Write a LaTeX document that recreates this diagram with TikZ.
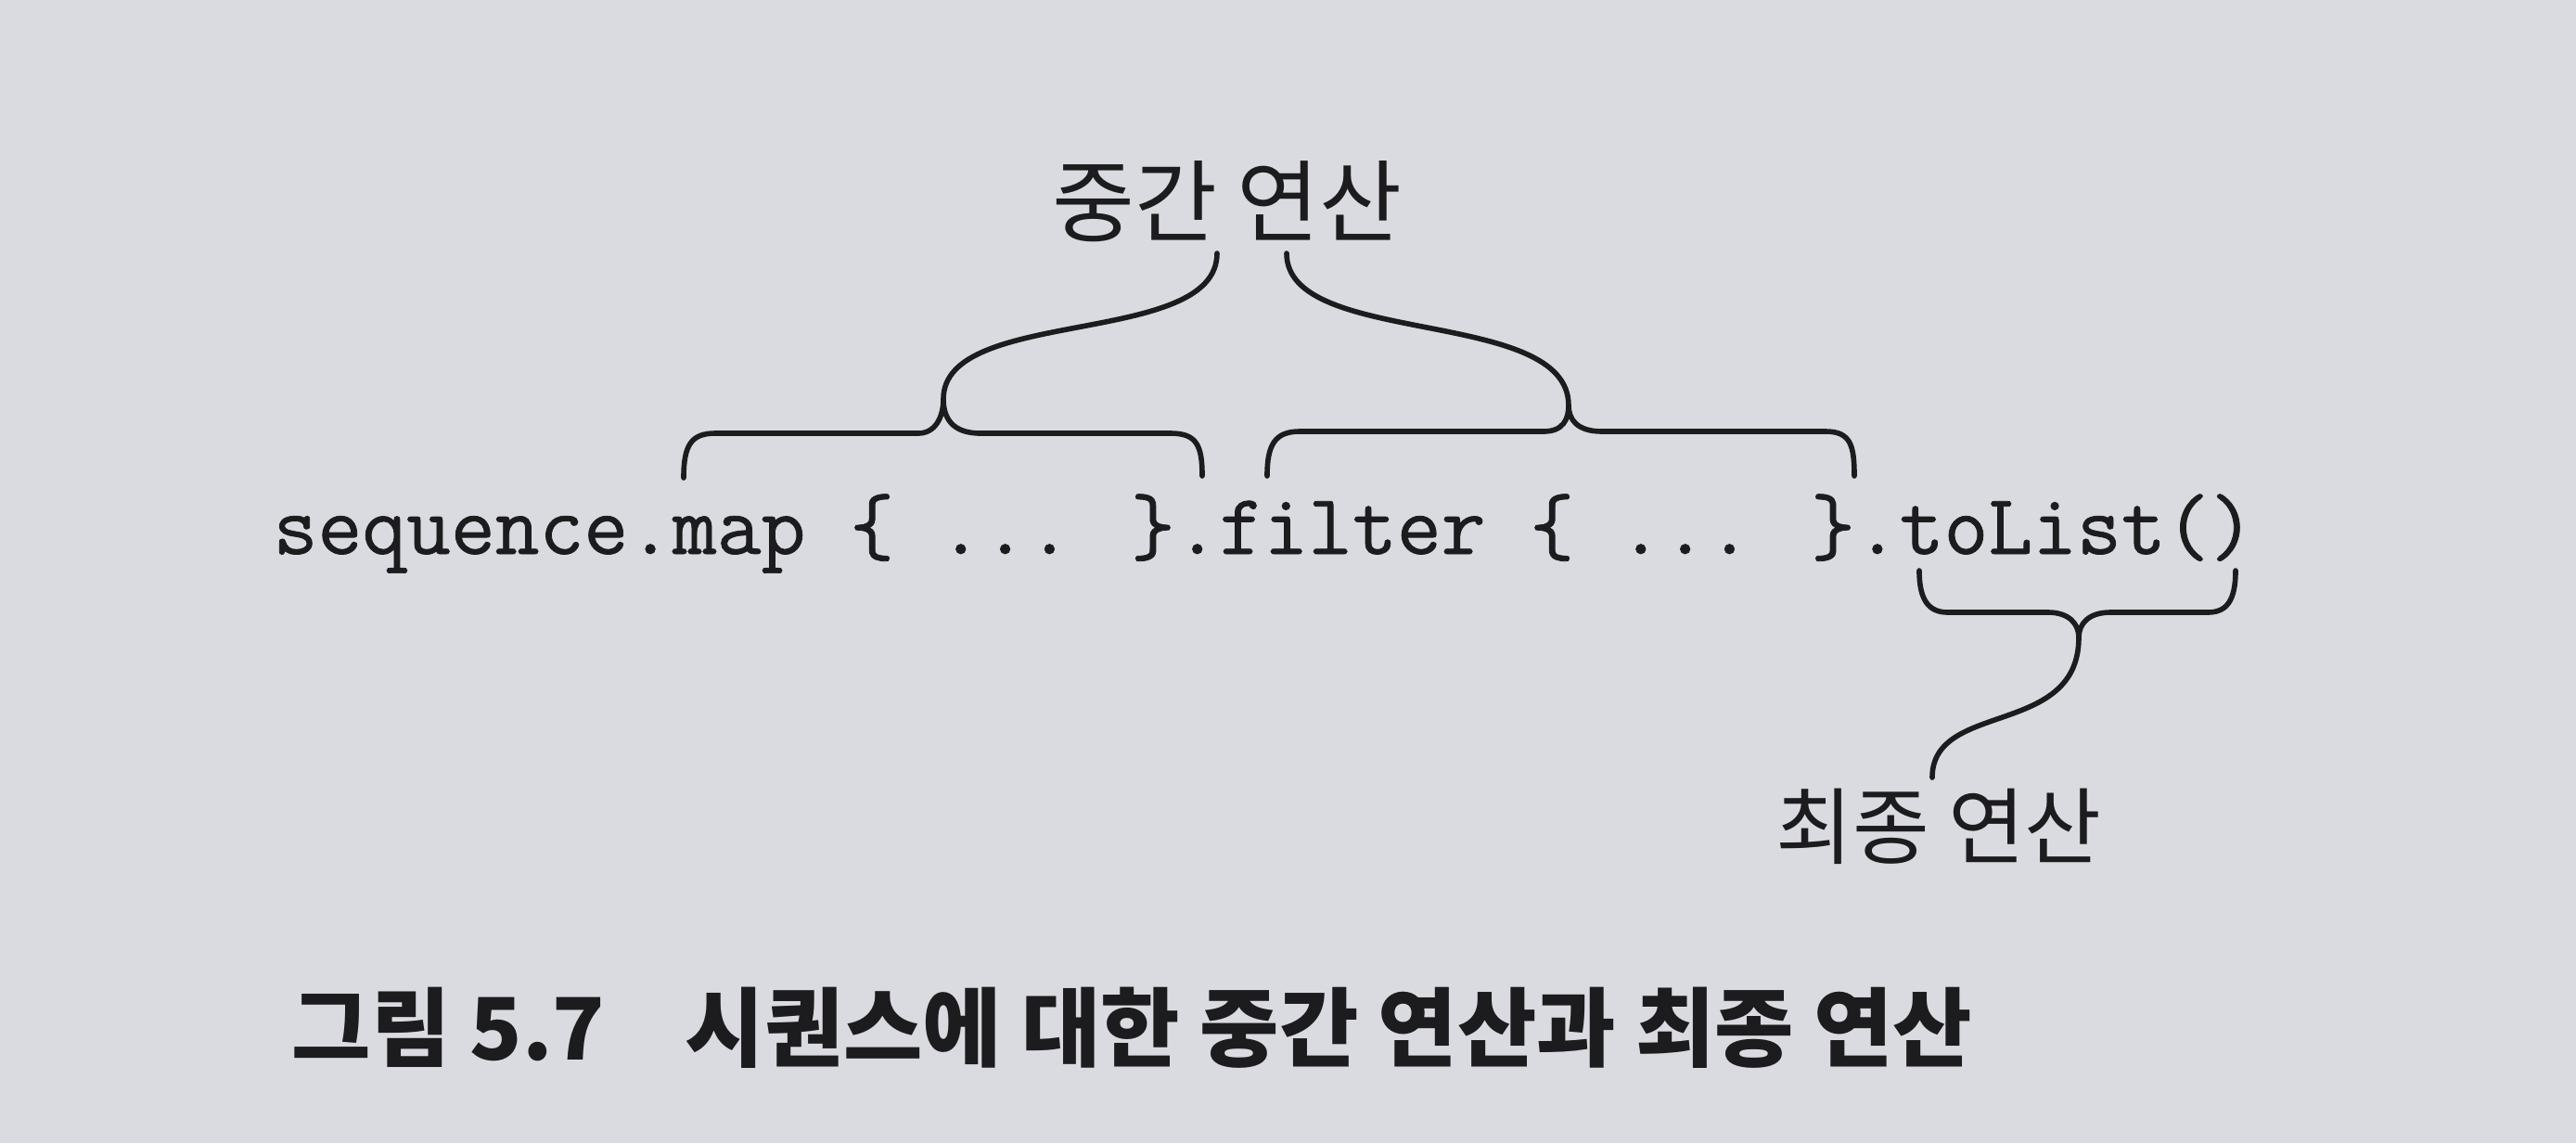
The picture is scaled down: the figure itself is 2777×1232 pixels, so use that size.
\documentclass[tikz,border=0pt]{standalone}
\usepackage{fontspec}
\newfontfamily\kr{Noto Sans CJK KR}
\newfontfamily\codefont{Latin Modern Mono}[FakeBold=0.8]
\definecolor{paper}{RGB}{218,219,224}
\definecolor{ink}{RGB}{28,28,30}
\tikzset{
  brace/.style={draw=ink,line width=1.6pt,line cap=round},
  label/.style={inner sep=0pt,text=ink,font=\kr\fontsize{25.6}{30}\selectfont},
  code/.style={inner sep=0pt,text=ink,font=\codefont\fontsize{26.4}{30}\selectfont}
}
\begin{document}
\begin{tikzpicture}[x=0.01cm,y=-0.01cm]
  \fill[paper] (0,0) rectangle (2777,1232);
  \useasboundingbox (0,0) rectangle (2777,1232);
  \node[code,anchor=base west] (seq) at (294,597) {sequence.map \{ ... \}.filter \{ ... \}.toList()};
  \node[label,font=\kr\fontsize{27.5}{32}\selectfont] (mid) at (1323,217) {중간 연산};
  \node[label] (fin) at (2090,891) {최종 연산};
  \node[label,anchor=west,font=\kr\bfseries\fontsize{26.4}{30}\selectfont] (cap) at (314,1108) {그림 5.7\hspace{0.7em} 시퀀스에 대한 중간 연산과 최종 연산};
  \coordinate (mapL) at (737,515);
  \coordinate (mapR) at (1296,513);
  \coordinate (mapTip) at (1017,430);
  \coordinate (filL) at (1366,513);
  \coordinate (filR) at (1999,513);
  \coordinate (filTip) at (1691,437);
  \coordinate (lstL) at (2069,615);
  \coordinate (lstR) at (2410,615);
  \coordinate (lstTip) at (2241,687);
  \coordinate (midA) at (1312,273);
  \coordinate (midB) at (1387,273);
  \coordinate (finA) at (2083,838);
  \draw[brace] (mapL) .. controls (737,480) and (745,467) .. (771,467) -- (990,467)
    .. controls (1008,467) and (1017,450) .. (mapTip)
    .. controls (1017,450) and (1026,467) .. (1057,467) -- (1262,467)
    .. controls (1290,467) and (1296,480) .. (mapR);
  \draw[brace] (filL) .. controls (1366,480) and (1374,465) .. (1401,465) -- (1664,465)
    .. controls (1685,465) and (1691,452) .. (filTip)
    .. controls (1691,452) and (1700,465) .. (1727,465) -- (1968,465)
    .. controls (1995,465) and (1999,480) .. (filR);
  \draw[brace] (lstL) .. controls (2069,648) and (2080,660) .. (2100,660) -- (2208,660)
    .. controls (2230,660) and (2241,672) .. (lstTip)
    .. controls (2241,672) and (2252,660) .. (2275,660) -- (2380,660)
    .. controls (2400,660) and (2410,648) .. (lstR);
  \draw[brace] (mapTip) .. controls (1017,330) and (1312,375) .. (midA);
  \draw[brace] (filTip) .. controls (1691,330) and (1387,375) .. (midB);
  \draw[brace] (lstTip) .. controls (2241,795) and (2083,755) .. (finA);
\end{tikzpicture}
\end{document}
